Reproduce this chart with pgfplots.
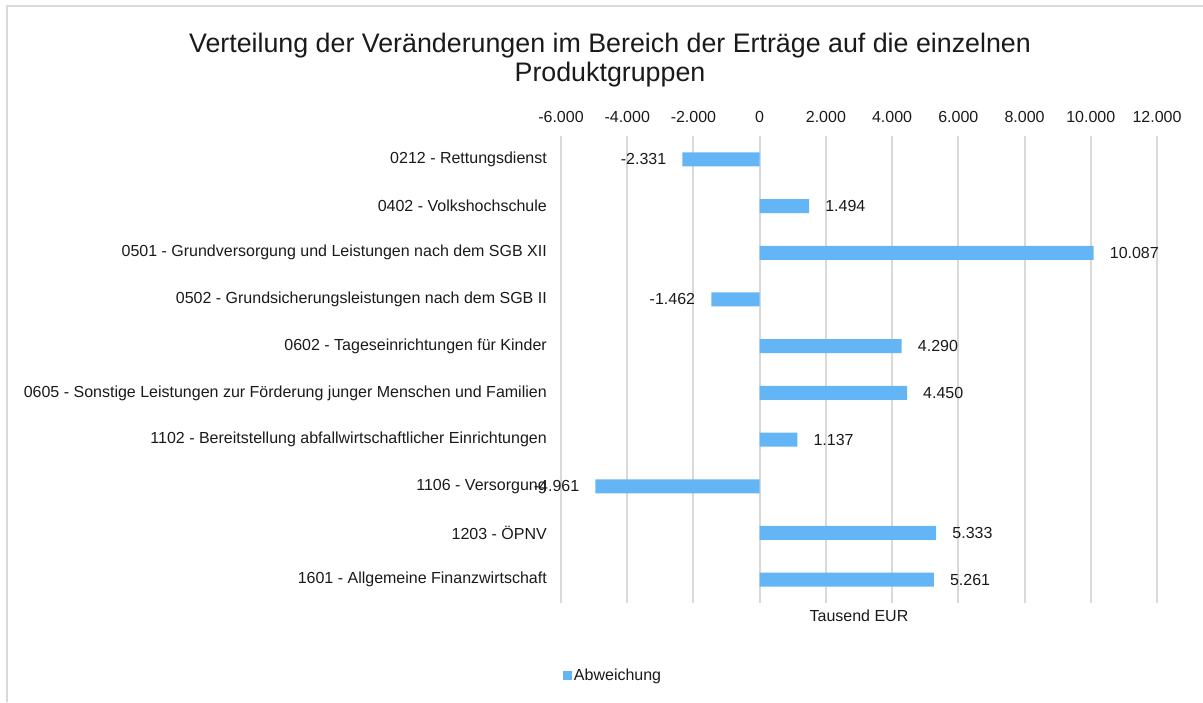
\documentclass[border=0pt]{standalone}
\usepackage{fontspec}
\setmainfont{Liberation Sans}
\usepackage{pgfplots}
\pgfplotsset{compat=1.18}
\definecolor{barblue}{HTML}{63B5F5}
\definecolor{gridgray}{HTML}{D9D9D9}
\definecolor{txt}{HTML}{1A1A1A}
\begin{document}
\begin{tikzpicture}
\useasboundingbox (0,0) rectangle (1203pt,-702pt);
\draw[gridgray,line width=1.2pt] (7pt,-702pt) -- (7pt,-6pt) -- (1203pt,-6pt);
\node[anchor=base,inner sep=0pt,text=txt,font=\fontsize{26.8}{30}\selectfont] at (610pt,-52pt)
  {Verteilung der Veränderungen im Bereich der Erträge auf die einzelnen};
\node[anchor=base,inner sep=0pt,text=txt,font=\fontsize{26.8}{30}\selectfont] at (610pt,-81pt)
  {Produktgruppen};
\begin{axis}[
  at={(561pt,-603pt)}, anchor=south west,
  width=596pt, height=467pt, scale only axis,
  xmin=-6000, xmax=12000, xtick={-6000,-4000,...,12000},
  ymin=-0.5, ymax=9.5, y dir=reverse, ytick={0,...,9},
  yticklabels={
    0212 - Rettungsdienst,
    {0402 - Volkshochschule\ },
    0501 - Grundversorgung und Leistungen nach dem SGB XII,
    0502 - Grundsicherungsleistungen nach dem SGB II,
    0602 - Tageseinrichtungen für Kinder,
    0605 - Sonstige Leistungen zur Förderung junger Menschen und Familien,
    1102 - Bereitstellung abfallwirtschaftlicher Einrichtungen,
    1106 - Versorgung,
    1203 - ÖPNV,
    1601 - Allgemeine Finanzwirtschaft},
  xbar, bar width=14pt,
  axis line style={draw=none},
  major tick length=0pt,
  xmajorgrids, major grid style={gridgray,line width=2pt},
  xticklabel pos=upper,
  scaled x ticks=false,
  /pgf/number format/fixed,
  /pgf/number format/precision=0,
  /pgf/number format/1000 sep={.},
  /pgf/number format/assume math mode=true,
  ticklabel style={font=\fontsize{16}{19}\selectfont, text=txt},
  xticklabel style={inner sep=0pt, yshift=13pt},
  yticklabel style={inner sep=0pt, xshift=-14pt},
  nodes near coords,
  every node near coord/.append style={font=\fontsize{16}{19}\selectfont, text=txt, inner xsep=16pt},
  legend style={draw=none, at={(0.003,-0.156)}, anchor=west, inner sep=0pt,
    font=\fontsize{16}{19}\selectfont, text=txt},
  clip=false,
]
\addplot[fill=barblue, draw=none, point meta=x,
  legend image code/.code={\fill[barblue] (0pt,-4.5pt) rectangle (9pt,4.5pt);}]
  coordinates {(-2331,0)(1494,1)(10087,2)(-1462,3)(4290,4)(4450,5)(1137,6)(-4961,7)(5333,8)(5261,9)};
\addlegendentry{Abweichung}
\node[anchor=north,inner sep=0pt,text=txt,font=\fontsize{16}{19}\selectfont,yshift=-7pt]
  at (rel axis cs:0.5,0) {Tausend EUR};
\end{axis}
\end{tikzpicture}
\end{document}
